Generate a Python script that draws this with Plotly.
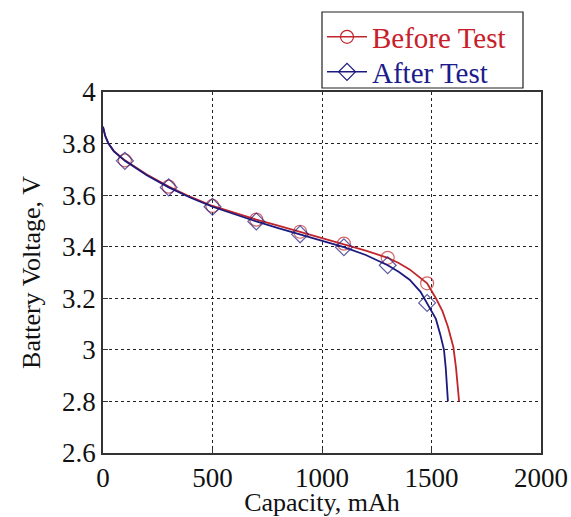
import plotly.graph_objects as go

# Before Test (red)
before_cap = [0, 10, 25, 50, 100, 200, 300, 400, 500, 600, 700, 800, 900, 1000, 1100,
              1200, 1300, 1350, 1400, 1450, 1480, 1520, 1550, 1575, 1600, 1612, 1620, 1626]
before_v = [3.865, 3.83, 3.80, 3.77, 3.735, 3.68, 3.633, 3.593, 3.558, 3.53, 3.505, 3.482,
            3.458, 3.436, 3.412, 3.385, 3.357, 3.337, 3.312, 3.28, 3.258, 3.20, 3.15, 3.09,
            3.01, 2.93, 2.86, 2.80]
# After Test (blue)
after_cap = [0, 10, 25, 50, 100, 200, 300, 400, 500, 600, 700, 800, 900, 1000, 1100,
             1200, 1300, 1350, 1400, 1450, 1480, 1520, 1540, 1557, 1565, 1570, 1575]
after_v = [3.865, 3.83, 3.80, 3.77, 3.733, 3.677, 3.63, 3.59, 3.555, 3.525, 3.498, 3.472,
           3.448, 3.425, 3.398, 3.368, 3.328, 3.303, 3.272, 3.225, 3.182, 3.12, 3.06, 3.0,
           2.93, 2.87, 2.80]
marker_caps = [100, 300, 500, 700, 900, 1100, 1300, 1480]

x_ticks = [0, 500, 1000, 1500, 2000]
y_ticks = [2.6, 2.8, 3.0, 3.2, 3.4, 3.6, 3.8, 4.0]
y_tick_labels = ["2.6", "2.8", "3", "3.2", "3.4", "3.6", "3.8", "4"]

RED = "#C0262C"
BLUE = "#1C1A7E"
FONT = "Liberation Serif, Times New Roman, serif"
MSIZE = 13


def sizes(caps):
    return [MSIZE if c in marker_caps else 0 for c in caps]


fig = go.Figure()
series = [
    (before_cap, before_v, RED, "circle-open", '<span style="color:#C8202A">Before Test</span>', "legend"),
    (after_cap, after_v, BLUE, "diamond-open", '<span style="color:#1C1C8C">After Test</span>', "legend2"),
]
for caps, volts, col, sym, name, leg in series:
    fig.add_trace(go.Scatter(
        x=caps, y=volts, mode="lines+markers", showlegend=False, legendgroup=name,
        line=dict(color=col, width=1.8),
        marker=dict(symbol=sym, size=sizes(caps), color=col, line=dict(width=1.2)),
    ))
    # legend entry (line + marker)
    fig.add_trace(go.Scatter(
        x=[None], y=[None], mode="lines+markers", name=name, legendgroup=name, legend=leg,
        line=dict(color=col, width=1.5),
        marker=dict(symbol=sym, size=MSIZE, color=col, line=dict(width=1.2)),
    ))

axis_common = dict(
    showgrid=True, gridcolor="#222", griddash="dot", gridwidth=1,
    showline=True, linecolor="#333", linewidth=1.5, mirror=True,
    ticks="inside", ticklen=5, tickcolor="#333",
    zeroline=False, tickfont=dict(family=FONT, size=27, color="#111"),
)

fig.update_xaxes(range=[0, 2000], tickvals=x_ticks, ticktext=[str(v) for v in x_ticks],
                 title=dict(text="Capacity, mAh", font=dict(family=FONT, size=26, color="#111"),
                            standoff=0),
                 **axis_common)
fig.update_yaxes(range=[2.6, 4.0], tickvals=y_ticks, ticktext=y_tick_labels,
                 title=dict(text="Battery Voltage, V", font=dict(family=FONT, size=26, color="#111"),
                            standoff=14),
                 **axis_common)

leg_common = dict(x=0.5, xanchor="left", yanchor="middle", bgcolor="rgba(0,0,0,0)",
                  borderwidth=0, font=dict(family=FONT, size=29), itemwidth=40)

fig.update_layout(
    width=571, height=517,
    margin=dict(l=103, r=30, t=92, b=64, autoexpand=False),
    plot_bgcolor="white", paper_bgcolor="white",
    showlegend=True,
    legend=dict(y=1.1524, **leg_common),
    legend2=dict(y=1.0554, **leg_common),
    shapes=[dict(type="rect", xref="paper", yref="paper", x0=0.5, x1=0.9589,
                 y0=1.0111, y1=1.2216, line=dict(color="#222", width=1.2),
                 fillcolor="white", layer="below")],
)

fig.write_html("out.html", config={"displayModeBar": False},
               post_script="document.body.style.margin='0';document.body.style.overflow='hidden';")
